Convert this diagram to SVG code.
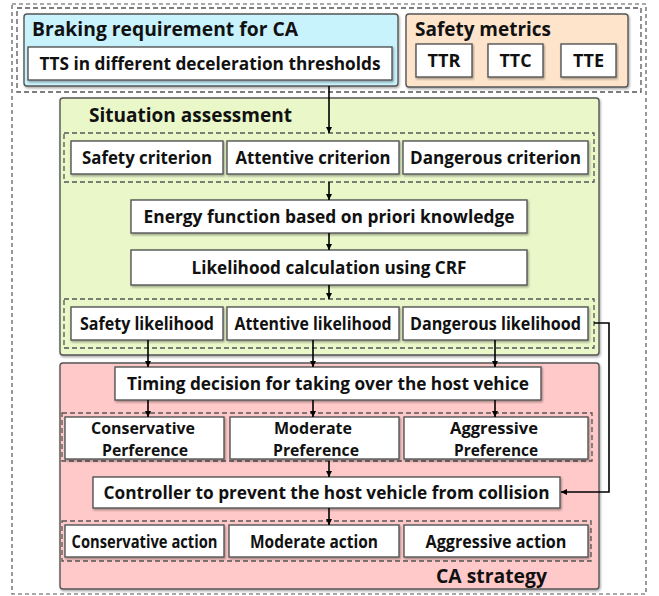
<svg xmlns="http://www.w3.org/2000/svg" width="659" height="596" viewBox="0 0 659 596">
<defs>
<marker id="arr" viewBox="0 0 10 10" refX="10" refY="5" markerWidth="6" markerHeight="7" markerUnits="userSpaceOnUse" orient="auto">
<path d="M0,0 L10,5 L0,10 z" fill="#000"/>
</marker>
<filter id="sh" x="-5%" y="-5%" width="110%" height="115%">
<feDropShadow dx="1" dy="1.5" stdDeviation="0.8" flood-color="#000" flood-opacity="0.35"/>
</filter>
</defs>
<style>
text{font-family:"Open Sans","Noto Sans","Liberation Sans",sans-serif;font-weight:700;fill:#111;}
.lbl{font-size:17px;text-anchor:middle;}
.two{font-size:16px;}
.ttl{font-size:19px;}
.box{fill:#fff;stroke:#555;stroke-width:1.4;filter:url(#sh);}
.pan{stroke:#555;stroke-width:1.4;filter:url(#sh);}
.dash{fill:none;stroke:#555;stroke-width:1.3;stroke-dasharray:5,3;}
.outer{fill:none;stroke:#555;stroke-width:1.2;stroke-dasharray:4,3;}
.con{fill:none;stroke:#000;stroke-width:1.6;}
</style>
<rect width="659" height="596" fill="#fff"/>
<rect class="outer" x="12" y="4" width="634" height="590"/>
<rect class="dash" x="17" y="8" width="624" height="84"/>

<g id="braking">
<rect class="pan" x="24" y="14" width="374" height="72" rx="3" fill="#c8f2fc"/>
<text class="ttl" x="32" y="36" textLength="266" lengthAdjust="spacingAndGlyphs">Braking requirement for CA</text>
</g>
<g id="tts">
<rect class="box" x="28" y="47" width="364" height="33"/>
<text class="lbl" x="210" y="70" textLength="341" lengthAdjust="spacingAndGlyphs">TTS in different deceleration thresholds</text>
</g>
<g id="safety-metrics">
<rect class="pan" x="406" y="14" width="222" height="73" rx="3" fill="#fde4cb"/>
<text class="ttl" x="415" y="36" textLength="136" lengthAdjust="spacingAndGlyphs">Safety metrics</text>
</g>
<g id="ttr"><rect class="box" x="416" y="44" width="56" height="33"/><text class="lbl" x="444" y="67" textLength="33" lengthAdjust="spacingAndGlyphs">TTR</text></g>
<g id="ttc"><rect class="box" x="488" y="44" width="55" height="33"/><text class="lbl" x="515.5" y="67" textLength="32" lengthAdjust="spacingAndGlyphs">TTC</text></g>
<g id="tte"><rect class="box" x="561" y="44" width="55" height="33"/><text class="lbl" x="588.5" y="67" textLength="31" lengthAdjust="spacingAndGlyphs">TTE</text></g>

<g id="situation">
<rect class="pan" x="60" y="98" width="539" height="257" rx="3" fill="#e9f7c9"/>
<text class="ttl" x="89" y="122" textLength="203" lengthAdjust="spacingAndGlyphs">Situation assessment</text>
</g>
<rect class="dash" x="64" y="133" width="530" height="49"/>
<g id="safety-criterion"><rect class="box" x="71" y="141" width="152" height="33"/><text class="lbl" x="147" y="164" textLength="130" lengthAdjust="spacingAndGlyphs">Safety criterion</text></g>
<g id="attentive-criterion"><rect class="box" x="227" y="141" width="172" height="33"/><text class="lbl" x="313" y="164" textLength="155" lengthAdjust="spacingAndGlyphs">Attentive criterion</text></g>
<g id="dangerous-criterion"><rect class="box" x="403" y="141" width="185" height="33"/><text class="lbl" x="495.5" y="164" textLength="171" lengthAdjust="spacingAndGlyphs">Dangerous criterion</text></g>
<g id="energy"><rect class="box" x="131" y="200" width="396" height="33"/><text class="lbl" x="329" y="223" textLength="371" lengthAdjust="spacingAndGlyphs">Energy function based on priori knowledge</text></g>
<g id="likelihood-calc"><rect class="box" x="131" y="250" width="396" height="35"/><text class="lbl" x="329" y="274" textLength="275" lengthAdjust="spacingAndGlyphs">Likelihood calculation using CRF</text></g>
<rect class="dash" x="64" y="299" width="530" height="49"/>
<g id="safety-likelihood"><rect class="box" x="71" y="307" width="152" height="33"/><text class="lbl" x="147" y="330" textLength="134" lengthAdjust="spacingAndGlyphs">Safety likelihood</text></g>
<g id="attentive-likelihood"><rect class="box" x="227" y="307" width="172" height="33"/><text class="lbl" x="313" y="330" textLength="157" lengthAdjust="spacingAndGlyphs">Attentive likelihood</text></g>
<g id="dangerous-likelihood"><rect class="box" x="403" y="307" width="185" height="33"/><text class="lbl" x="495.5" y="330" textLength="171" lengthAdjust="spacingAndGlyphs">Dangerous likelihood</text></g>

<g id="ca-strategy">
<rect class="pan" x="60" y="363" width="539" height="226" rx="3" fill="#ffc9c9"/>
<text class="ttl" x="436" y="583" style="font-size:20px" textLength="111" lengthAdjust="spacingAndGlyphs">CA strategy</text>
</g>
<g id="timing"><rect class="box" x="115" y="367" width="426" height="33"/><text class="lbl" x="328" y="390" textLength="402" lengthAdjust="spacingAndGlyphs">Timing decision for taking over the host vehice</text></g>
<rect class="dash" x="62" y="413" width="530" height="48"/>
<g id="conservative-pref"><rect class="box" x="65" y="417" width="159" height="42"/><text class="lbl two" x="143" y="434" textLength="104" lengthAdjust="spacingAndGlyphs">Conservative</text><text class="lbl two" x="145" y="456" textLength="86" lengthAdjust="spacingAndGlyphs">Perference</text></g>
<g id="moderate-pref"><rect class="box" x="230" y="417" width="169" height="42"/><text class="lbl two" x="313" y="434" textLength="78" lengthAdjust="spacingAndGlyphs">Moderate</text><text class="lbl two" x="316" y="456" textLength="86" lengthAdjust="spacingAndGlyphs">Preference</text></g>
<g id="aggressive-pref"><rect class="box" x="404" y="417" width="184" height="42"/><text class="lbl two" x="494" y="434" textLength="88" lengthAdjust="spacingAndGlyphs">Aggressive</text><text class="lbl two" x="496" y="456" textLength="84" lengthAdjust="spacingAndGlyphs">Preference</text></g>
<g id="controller"><rect class="box" x="93" y="477" width="467" height="31"/><text class="lbl" x="326.5" y="499" textLength="446" lengthAdjust="spacingAndGlyphs">Controller to prevent the host vehicle from collision</text></g>
<rect class="dash" x="62" y="521" width="529" height="40"/>
<g id="conservative-action"><rect class="box" x="65" y="525" width="159" height="32"/><text class="lbl" x="144.5" y="548" textLength="146" lengthAdjust="spacingAndGlyphs">Conservative action</text></g>
<g id="moderate-action"><rect class="box" x="229" y="525" width="170" height="32"/><text class="lbl" x="314" y="548" textLength="128" lengthAdjust="spacingAndGlyphs">Moderate action</text></g>
<g id="aggressive-action"><rect class="box" x="404" y="525" width="184" height="32"/><text class="lbl" x="496" y="548" textLength="141" lengthAdjust="spacingAndGlyphs">Aggressive action</text></g>

<g id="connectors">
<line class="con" x1="329" y1="86" x2="329" y2="133" marker-end="url(#arr)"/>
<line class="con" x1="329" y1="182" x2="329" y2="200" marker-end="url(#arr)"/>
<line class="con" x1="329" y1="233" x2="329" y2="250" marker-end="url(#arr)"/>
<line class="con" x1="329" y1="285" x2="329" y2="299" marker-end="url(#arr)"/>
<line class="con" x1="148" y1="340" x2="148" y2="367" marker-end="url(#arr)"/>
<line class="con" x1="313" y1="340" x2="313" y2="367" marker-end="url(#arr)"/>
<line class="con" x1="495" y1="340" x2="495" y2="367" marker-end="url(#arr)"/>
<line class="con" x1="148" y1="400" x2="148" y2="417" marker-end="url(#arr)"/>
<line class="con" x1="313" y1="400" x2="313" y2="417" marker-end="url(#arr)"/>
<line class="con" x1="495" y1="400" x2="495" y2="417" marker-end="url(#arr)"/>
<line class="con" x1="329" y1="461" x2="329" y2="477" marker-end="url(#arr)"/>
<line class="con" x1="329" y1="508" x2="329" y2="525" marker-end="url(#arr)"/>
<polyline class="con" points="594,323 609,323 609,492 561,492" marker-end="url(#arr)"/>
</g>
</svg>
